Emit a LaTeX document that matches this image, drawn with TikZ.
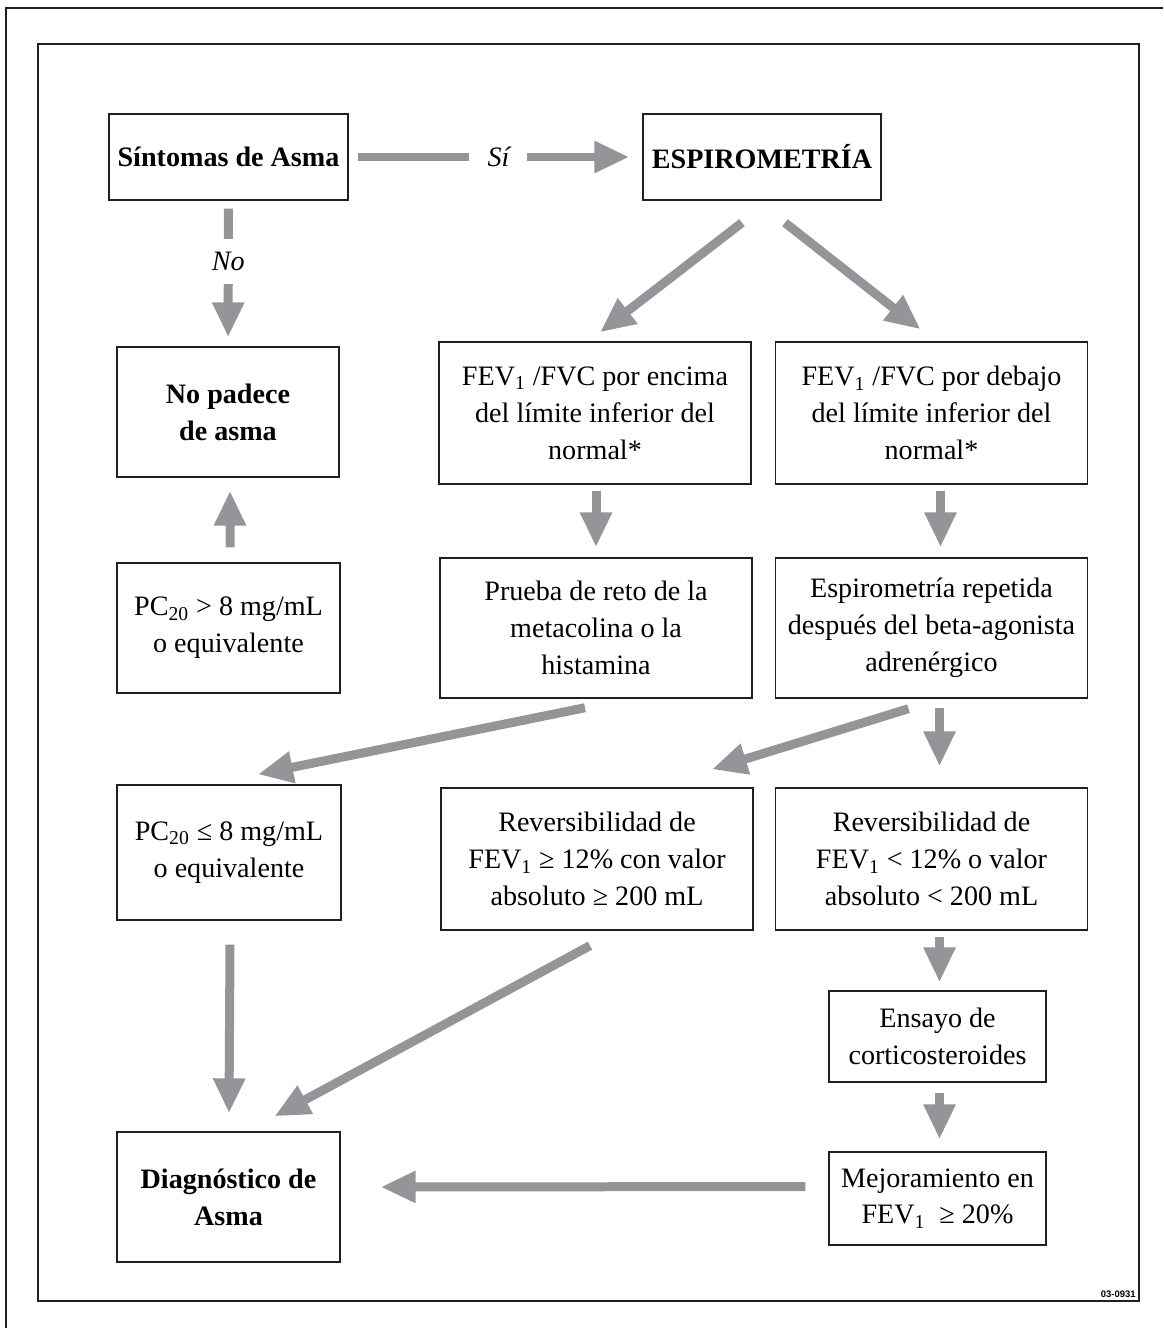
\documentclass[tikz,border=0pt]{standalone}
\usepackage{fontspec}
\setmainfont{Liberation Serif}
\newfontfamily\numfont{Liberation Sans}
\usetikzlibrary{arrows.meta,calc,positioning}
\definecolor{pilgris}{RGB}{147,149,152}
\definecolor{tinta}{RGB}{35,31,32}
\tikzset{
    >={Triangle[length=0.7cm,width=0.6cm]},
    caja/.style={
           rectangle,
           draw=tinta, line width=0.8pt,
           minimum width=6.24cm,
           minimum height=2.84cm,
           inner sep=0pt,
           align=center,
           font=\fontsize{16pt}{21pt}\selectfont},
    negrita/.style={
           font=\fontsize{16pt}{21pt}\selectfont\bfseries},
    flecha/.style={
           ->,
           draw=pilgris,
           line width=0.18cm},
    rotulo/.style={
           fill=white,
           inner sep=0pt,
           font=\fontsize{16pt}{21pt}\selectfont\itshape}
}

\begin{document}
\begin{tikzpicture}[x=0.02cm, y=-0.02cm]
        \useasboundingbox (0,0) rectangle (1163,1328);
        \draw[tinta, line width=1.4pt] (6,1328) -- (6,8) -- (1163,8);
        \draw[tinta, line width=1.4pt] (38,44) rectangle (1139,1301);

        \node[caja, negrita, minimum width=4.78cm, minimum height=1.72cm] (sint) at (228.5,157) {Síntomas de Asma};
        \node[caja, negrita, minimum width=4.76cm, minimum height=1.72cm] (espi) at (762,157) {ESPIROMETRÍA};
        \node[caja, negrita, minimum width=4.44cm, minimum height=2.6cm] (nopad) at (228,412) {No padece\\de asma};
        \node[caja] (enc) at (595,413) {FEV\textsubscript{1} /FVC por encima\\del límite inferior del\\normal*};
        \node[caja] (deb) at (931.5,413) {FEV\textsubscript{1} /FVC por debajo\\del límite inferior del\\normal*};
        \node[caja, minimum width=4.46cm, minimum height=2.6cm] (pcmay) at (228.5,628) {PC\textsubscript{20} > 8 mg/mL\\o equivalente};
        \node[caja, minimum height=2.8cm] (prueba) at (596,628) {Prueba de reto de la\\metacolina o la\\histamina};
        \node[caja, minimum height=2.8cm] (repet) at (931.5,628) {Espirometría repetida\\después del beta-agonista\\adrenérgico};
        \node[caja, minimum width=4.48cm, minimum height=2.7cm] (pcmen) at (229,852.5) {PC\textsubscript{20} ≤ 8 mg/mL\\o equivalente};
        \node[caja] (revmay) at (597,859) {Reversibilidad de\\FEV\textsubscript{1} ≥ 12\% con valor\\absoluto ≥ 200 mL};
        \node[caja] (revmen) at (931.5,859) {Reversibilidad de\\FEV\textsubscript{1} < 12\% o valor\\absoluto < 200 mL};
        \node[caja, minimum width=4.34cm, minimum height=1.82cm] (ensayo) at (937.5,1036.5) {Ensayo de\\corticosteroides};
        \node[caja, minimum width=4.34cm, minimum height=1.86cm] (mejora) at (937.5,1198.5) {Mejoramiento en\\FEV\textsubscript{1} \ ≥ 20\%};
        \node[caja, negrita, minimum width=4.46cm, minimum height=2.6cm] (diag) at (228.5,1197) {Diagnóstico de\\Asma};
        \node[anchor=south east, inner sep=0pt, font=\numfont\bfseries\fontsize{5.4pt}{6pt}\selectfont] (codigo) at (1136,1298) {03-0931};

        \draw[flecha, shorten <=0.18cm, shorten >=0.26cm] (sint) -- node[rotulo, pos=0.51, minimum width=1.16cm] {Sí} (espi);
        \draw[flecha, shorten <=0.16cm, shorten >=0.18cm] (sint) -- node[rotulo, pos=0.42, minimum height=0.9cm] {No} (nopad);
        \draw[flecha] ($(espi.south)+(-20,22)$) -- ($(enc.north)+(5,-9)$);
        \draw[flecha] ($(espi.south)+(23,22)$) -- ($(deb.north)+(-11,-12)$);
        \draw[flecha] ($(pcmay.north)+(1.5,-15)$) -- ($(nopad.south)+(2,13)$);
        \draw[flecha] ($(enc.south)+(1,6)$) -- ($(prueba.north)+(0,-10)$);
        \draw[flecha] ($(deb.south)+(9,6)$) -- ($(repet.north)+(9,-10)$);
        \draw[flecha] ($(prueba.south)+(-11,9)$) -- ($(pcmen.north)+(29,-10)$);
        \draw[flecha] ($(repet.south)+(-23,10)$) -- ($(revmay.north)+(115,-18)$);
        \draw[flecha] ($(repet.south)+(8,9)$) -- ($(revmen.north)+(8,-21)$);
        \draw[flecha] ($(pcmen.south)+(1,24)$) -- ($(diag.north)+(0.5,-18)$);
        \draw[flecha] ($(revmay.south)+(-7,15)$) -- ($(diag.north)+(46,-15)$);
        \draw[flecha] ($(revmen.south)+(8,6)$) -- ($(ensayo.north)+(2,-8)$);
        \draw[flecha] ($(ensayo.south)+(2,10)$) -- ($(mejora.north)+(2,-12)$);
        \draw[flecha] ($(mejora.west)+(-23,-12)$) -- ($(diag.east)+(40,-10)$);
    \end{tikzpicture}
\end{document}
